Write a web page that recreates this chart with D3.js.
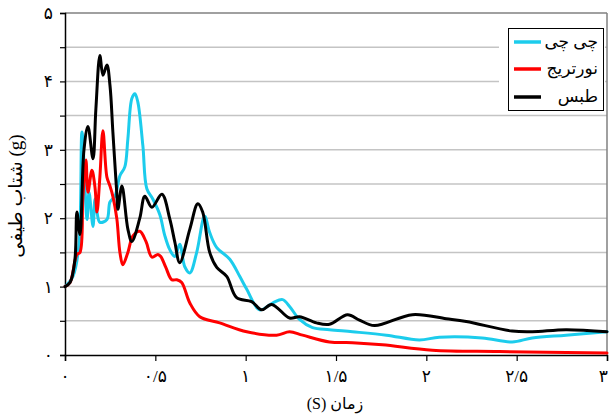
<!DOCTYPE html>
<html><head><meta charset="utf-8">
<script src="https://cdn.jsdelivr.net/npm/d3@7"></script>
<style>
html,body{margin:0;padding:0;background:#fff;}
text{font-family:"Liberation Serif","DejaVu Serif","DejaVu Sans",serif;}
</style></head>
<body><svg id="c" width="609" height="414"></svg>
<script>
const seriesNames = ["چی چی", "نورتریج", "طبس"];
const seriesColors = ["#1cccec", "#ff0000", "#000000"];
const yTicks = [0,1,2,3,4,5];
const yTickLabels = ["۰","۱","۲","۳","۴","۵"];
const xTicks = [0,0.5,1,1.5,2,2.5,3];
const xTickLabels = ["۰","۰/۵","۱","۱/۵","۲","۲/۵","۳"];

// Chichi
const chichiT = [0,0.044,0.077,0.094,0.122,0.133,0.155,0.166,0.177,0.193,0.232,0.249,0.276,0.304,0.331,0.348,0.370,0.387,0.403,0.431,0.453,0.486,0.525,0.552,0.580,0.608,0.635,0.663,0.691,0.729,0.773,0.801,0.840,0.912,0.967,1.006,1.077,1.149,1.204,1.243,1.298,1.370,1.464,1.591,1.779,1.961,2.072,2.309,2.475,2.586,2.773,3.0];
const chichiV = [1.0,1.15,1.6,3.26,1.98,2.38,1.88,2.28,2.09,1.94,1.98,2.24,2.32,2.62,2.75,3.16,3.75,3.82,3.7,3.06,2.43,2.28,2.05,1.75,1.54,1.44,1.62,1.29,1.2,1.5,2.03,1.79,1.57,1.4,1.15,0.96,0.66,0.76,0.81,0.71,0.52,0.40,0.37,0.34,0.29,0.22,0.26,0.25,0.19,0.25,0.29,0.34];
// Northridge
const northT = [0,0.028,0.066,0.083,0.099,0.116,0.127,0.149,0.166,0.177,0.193,0.210,0.232,0.249,0.265,0.287,0.304,0.320,0.348,0.376,0.414,0.448,0.481,0.514,0.530,0.558,0.591,0.619,0.646,0.691,0.746,0.856,1.006,1.171,1.243,1.315,1.464,1.591,1.757,2.033,2.403,3.0];
const northV = [1.0,1.06,1.47,1.5,2.3,2.85,2.38,2.7,2.45,2.09,2.6,3.28,2.6,2.47,2.32,1.99,1.5,1.32,1.5,1.74,1.81,1.66,1.43,1.47,1.44,1.28,1.1,1.1,1.06,0.76,0.56,0.47,0.34,0.29,0.34,0.29,0.19,0.18,0.15,0.07,0.05,0.03];
// Tabas
const tabasT = [0,0.028,0.055,0.066,0.083,0.105,0.127,0.155,0.171,0.193,0.210,0.232,0.249,0.265,0.287,0.293,0.315,0.348,0.370,0.414,0.442,0.481,0.536,0.580,0.608,0.635,0.691,0.735,0.762,0.801,0.840,0.895,0.950,1.033,1.088,1.144,1.243,1.298,1.392,1.464,1.564,1.630,1.713,1.923,2.110,2.221,2.475,2.586,2.773,3.0];
const tabasV = [1.0,1.06,1.4,2.09,1.76,3.0,3.34,2.87,3.6,4.38,4.09,4.24,3.94,3.26,2.35,2.13,2.47,1.84,1.66,2.0,2.32,2.16,2.35,1.99,1.65,1.35,1.84,2.21,2.09,1.5,1.28,1.15,0.84,0.78,0.66,0.74,0.54,0.56,0.47,0.45,0.59,0.51,0.43,0.59,0.53,0.49,0.35,0.34,0.37,0.34];

const seriesT = [chichiT, northT, tabasT];
const seriesV = [chichiV, northV, tabasV];

const svg = d3.select("#c");
const L = 65, R = 607, T = 13, B = 355;
const x = d3.scaleLinear().domain([0,3]).range([L,R]);
const y = d3.scaleLinear().domain([0,5]).range([B,T]);

// gridlines
const gridVals = d3.range(0.5, 5.01, 0.5);
svg.append("g").selectAll("line").data(gridVals).join("line")
  .attr("x1", L).attr("x2", R).attr("y1", d=>y(d)).attr("y2", d=>y(d))
  .attr("stroke", d => d===5 ? "#808080" : "#c4c4c4").attr("stroke-width", 1.5);
// right border
svg.append("line").attr("x1", R).attr("x2", R).attr("y1", T).attr("y2", B)
  .attr("stroke", "#808080").attr("stroke-width", 1.5);

// axes
const yAxis = d3.axisLeft(y).tickValues(gridVals.concat([0])).tickSize(5).tickFormat(()=> "");
const gy = svg.append("g").attr("transform", `translate(${L},0)`).call(yAxis);
gy.select(".domain").attr("stroke","#000").attr("stroke-width",1.5);
gy.selectAll(".tick line").attr("stroke","#000").attr("stroke-width",1.2);
svg.append("g").selectAll("text").data(yTicks).join("text")
  .attr("x", 53).attr("y", d=>y(d)+6).attr("text-anchor","end")
  .attr("font-size", 17).text((d,i)=>yTickLabels[i]);

const xAxis = d3.axisBottom(x).tickValues(xTicks).tickSize(6).tickFormat(()=> "");
const gx = svg.append("g").attr("transform", `translate(0,${B})`).call(xAxis);
gx.select(".domain").attr("stroke","#000").attr("stroke-width",1.5);
gx.selectAll(".tick line").attr("stroke","#000").attr("stroke-width",1.2);
svg.append("g").selectAll("text").data(xTicks).join("text")
  .attr("x", (d,i)=> i===xTicks.length-1 ? 608 : x(d)).attr("y", 382)
  .attr("text-anchor",(d,i)=> i===xTicks.length-1 ? "end" : "middle")
  .attr("font-size", 17).text((d,i)=>xTickLabels[i]);

// lines
const line = d3.line().x(d=>x(d[0])).y(d=>y(d[1])).curve(d3.curveCatmullRom.alpha(0.5));
seriesT.forEach((ts, i) => {
  const pts = ts.map((t,j)=>[t, seriesV[i][j]]);
  svg.append("path").attr("d", line(pts)).attr("fill","none")
    .attr("stroke", seriesColors[i]).attr("stroke-width", 3)
    .attr("stroke-linejoin","round").attr("stroke-linecap","round");
});

// legend
svg.append("rect").attr("x", 499).attr("y", 20).attr("width", 106).attr("height", 94).attr("fill","#fff");
svg.append("rect").attr("x", 508.5).attr("y", 28.5).attr("width", 95).attr("height", 82)
  .attr("fill","#fff").attr("stroke","#000").attr("stroke-width",1);
const legY = [42, 69, 97];
seriesNames.forEach((n,i)=>{
  svg.append("line").attr("x1", 514).attr("x2", 541).attr("y1", legY[i]).attr("y2", legY[i])
    .attr("stroke", seriesColors[i]).attr("stroke-width", 3.5);
  svg.append("text").attr("x", 598).attr("y", legY[i]+5).attr("text-anchor","start")
    .attr("direction","rtl").attr("font-size", 17).text(n);
});

// axis titles
svg.append("text").attr("x", 335).attr("y", 409).attr("text-anchor","middle")
  .attr("font-size", 16).attr("direction","rtl").text("زمان (S)");
svg.append("text").attr("transform","translate(22,196) rotate(-90)")
  .attr("text-anchor","middle").attr("font-size", 19).text("شتاب طیفی (g)");
</script></body></html>
